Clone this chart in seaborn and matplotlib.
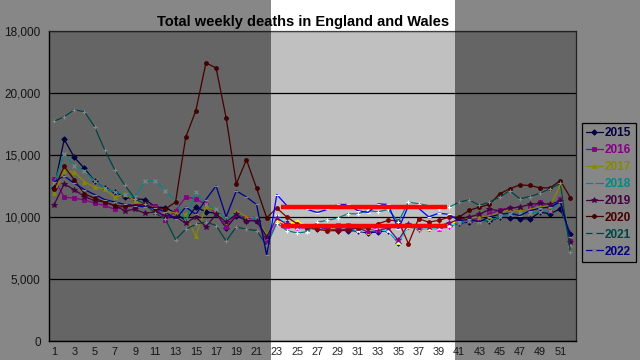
import matplotlib
matplotlib.use("Agg")
import matplotlib.pyplot as plt
from matplotlib.patches import Rectangle
from matplotlib import font_manager
import seaborn as sns
import pandas as pd

weeks = list(range(1, 53))

d2015 = [12300, 16250, 14800, 13900, 12900, 12300, 12000, 11600, 11450, 11400,
         10800, 10750, 10300, 9700, 10800, 10400, 10300, 9100, 10100, 9700,
         9700, 8400, 9800, 9500, 9250, 9150, 9000, 9050, 8900, 8900,
         8850, 8700, 8800, 8900, 7900, 9300, 9000, 9100, 9100, 9250,
         9500, 9580, 9720, 9640, 9980, 9930, 9850, 9830, 10380, 10250,
         10650, 8650]
d2016 = [13060, 11590, 11500, 11370, 11110, 10920, 10600, 10900, 10950, 11000,
         10900, 9720, 10500, 11590, 11460, 11000, 10300, 9200, 10200, 9900,
         9800, 7970, 9600, 9300, 9100, 9000, 9200, 9100, 9370, 9370,
         9000, 8900, 9100, 9000, 8100, 9200, 9050, 9050, 9050, 9300,
         9500, 9700, 9900, 10200, 10570, 10730, 10520, 10600, 11190, 10520,
         11460, 8050]
d2017 = [11900, 13730, 13600, 12850, 12390, 12260, 11590, 11840, 11300, 11000,
         10700, 10500, 10300, 10200, 8450, 10840, 10500, 9600, 10500, 10000,
         9900, 8600, 9770, 9400, 9640, 9300, 9200, 9100, 9000, 9100,
         9000, 8800, 9000, 9000, 7970, 9300, 9100, 9100, 9200, 9400,
         9700, 9900, 10000, 10100, 10300, 10600, 10500, 10600, 10800, 10900,
         12530, 7900]
d2018 = [12700, 15050, 14100, 13700, 12900, 12300, 12000, 11800, 11600, 12900,
         12900, 12100, 11300, 9700, 12000, 11000, 10600, 9700, 10300, 9700,
         9900, 8300, 10100, 9400, 9100, 8900, 9100, 9000, 8900, 9100,
         8900, 8800, 8950, 8900, 8000, 9200, 9000, 9050, 9100, 9300,
         9500, 9700, 9600, 9700, 10000, 10200, 10300, 10300, 10400, 10500,
         11200, 7700]
d2019 = [10970, 12660, 12180, 11640, 11300, 11200, 10900, 10500, 10600, 10300,
         10400, 10100, 10000, 9500, 10000, 9200, 10200, 9600, 10200, 9700,
         9700, 8400, 9900, 9400, 9300, 9100, 9200, 9000, 9000, 9000,
         9100, 8800, 8900, 9100, 8100, 9400, 9100, 9200, 9300, 9500,
         9800, 10000, 10200, 10600, 10500, 10700, 10800, 11000, 11100, 11000,
         11300, 8000]
d2020 = [12250, 14060, 12990, 11860, 11500, 11200, 10900, 10840, 10900, 11000,
         10650, 10650, 11190, 16410, 18550, 22400, 22000, 17960, 12660, 14610,
         12310, 9930, 10710, 9980, 9450, 9110, 9000, 8870, 8900, 8950,
         9100, 9100, 9450, 9720, 9700, 7840, 9850, 9580, 9720, 9980,
         9980, 10520, 10790, 11000, 11860, 12260, 12580, 12530, 12340, 12340,
         12930, 11540]
d2021 = [17700, 18070, 18630, 18470, 17270, 15390, 13790, 12530, 11460, 11000,
         10300, 9800, 8170, 9000, 9400, 9600, 9300, 8050, 9200, 9000,
         8900, 7700, 9500, 8900, 8700, 8800, 9580, 9720, 9900, 10250,
         10250, 10520, 10400, 10600, 9600, 11190, 11060, 10900, 10650, 10780,
         11190, 11370, 10930, 11190, 11600, 12100, 11460, 11640, 11910, 12270,
         12700, 7170]
d2022 = [12800, 13300, 12700, 12200, 11800, 11400, 11200, 11000, 10900, 10800,
         10700, 10400, 9800, 10800, 10200, 11400, 12500, 10000, 12100, 11600,
         11000, 6900, 11800, 10900, 10900, 10600, 10350, 10600, 11000, 11000,
         10500, 10350, 11050, 11000, 9000, 10900, 10700, 10000, 10300, 10200,
         9700, 9800, 9600, 10000, 10200, 10300, 10100, 10500, 10700, 10800,
         11200, 8400]

years = ["2015", "2016", "2017", "2018", "2019", "2020", "2021", "2022"]
series = [d2015, d2016, d2017, d2018, d2019, d2020, d2021, d2022]
colors = ["#000080", "#FF00FF", "#FFFF00", "#00FFFF", "#800080", "#800000", "#008080", "#0000FF"]
markers = ["D", "s", "^", "x", "*", "o", "+", "_"]

red_levels = [10820, 9250]
red_span = (23.4, 39.8)

ytick_vals = [0, 5000, 10000, 15000, 20000, 25000]
ytick_labels = ["0", "5,000", "10,000", "15,000", "20,000", "18,000"]

title = "Total weekly deaths in England and Wales"

names = {f.name for f in font_manager.fontManager.ttflist}
base_font = "Liberation Sans" if "Liberation Sans" in names else "DejaVu Sans"
narrow_font = "Liberation Sans Narrow" if "Liberation Sans Narrow" in names else base_font

sns.set_style("white")
plt.rcParams["font.family"] = [base_font, "DejaVu Sans"]

fig = plt.figure(figsize=(6.4, 3.6), dpi=100, facecolor="white")
ax = fig.add_axes([49 / 640, 19 / 360, (575.5 - 49) / 640, (341 - 30.7) / 360])
ax.set_facecolor("#C0C0C0")

for yr, vals, c, m in zip(years, series, colors, markers):
    df = pd.DataFrame({"week": weeks, "deaths": vals})
    filled = m not in ("x", "+", "_")
    kw = dict(markersize=2.8 if filled else 3.2, markeredgewidth=0.6 if filled else 0.8)
    if m == "*":
        kw["markersize"] = 4
    if filled:
        kw["markerfacecolor"] = c
        kw["markeredgecolor"] = c
    sns.lineplot(data=df, x="week", y="deaths", color=c, marker=m, linewidth=0.9,
                 label=yr, ax=ax, legend=False, **kw)

for lvl in red_levels:
    ax.hlines(lvl, red_span[0], red_span[1], color="#FF0000", linewidth=3.2, zorder=10)

ax.set_xlim(0.5, 52.5)
ax.set_ylim(0, 25000)
ax.set_yticks(ytick_vals)
ax.set_yticklabels(ytick_labels, fontsize=8.5)
ax.set_xticks(weeks)
ax.set_xticklabels([str(w) if w % 2 == 1 else "" for w in weeks], fontsize=7.8)
ax.set_xticks([w + 0.5 for w in range(0, 53)], minor=True)
ax.tick_params(axis="x", which="major", length=0, pad=4)
ax.tick_params(axis="x", which="minor", length=4, direction="out", color="black", width=0.8)
ax.tick_params(axis="y", which="major", length=4, direction="out", color="black", width=0.8, pad=2)
ax.set_xlabel("")
ax.set_ylabel("")
ax.yaxis.grid(True, color="black", linewidth=0.9)
ax.xaxis.grid(False)
ax.set_axisbelow(True)
for s in ["left", "bottom"]:
    ax.spines[s].set_color("black")
    ax.spines[s].set_linewidth(1.0)
for s in ["top", "right"]:
    ax.spines[s].set_color("#404040")
    ax.spines[s].set_linewidth(0.9)

fig.text(303 / 640, 1 - 22 / 360, title, ha="center", va="center",
         fontsize=10.5, fontweight="bold", family=[narrow_font, "DejaVu Sans"], color="black")

handles, labels = ax.get_legend_handles_labels()
leg = fig.legend(handles, labels, loc="upper left", bbox_to_anchor=(582 / 640, 1 - 122.7 / 360),
                 bbox_transform=fig.transFigure, frameon=True, fancybox=False, edgecolor="black",
                 facecolor="white", framealpha=1, prop={"size": 8.5, "weight": "bold"},
                 handlelength=1.4, handletextpad=0.2, labelspacing=0.42, borderpad=0.35,
                 borderaxespad=0)
leg.get_frame().set_linewidth(0.9)
for t, c in zip(leg.get_texts(), colors):
    t.set_color(c)

# dimming overlay outside the highlighted band
fig.add_artist(Rectangle((0, 0), 271 / 640, 1, transform=fig.transFigure,
                         facecolor="black", edgecolor="none", alpha=0.47, zorder=100))
fig.add_artist(Rectangle((455 / 640, 0), (640 - 455) / 640, 1, transform=fig.transFigure,
                         facecolor="black", edgecolor="none", alpha=0.47, zorder=100))

fig.savefig("out.png", dpi=100, facecolor=fig.get_facecolor())
